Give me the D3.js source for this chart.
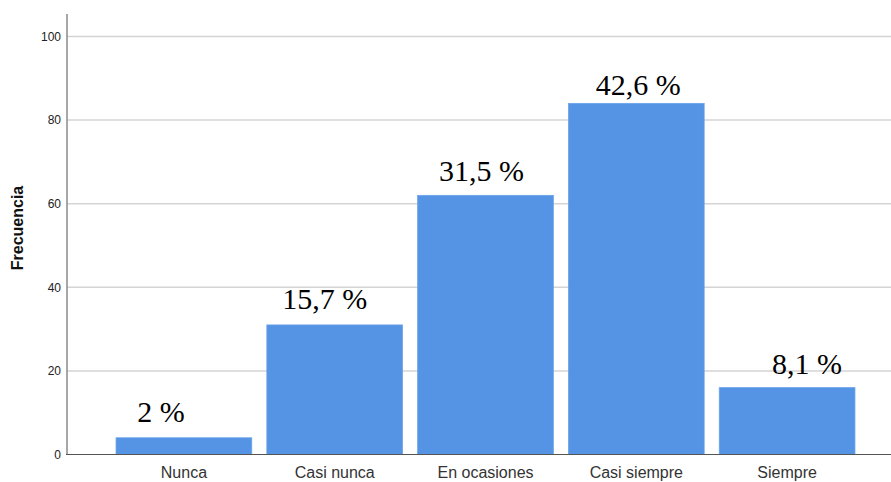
<!DOCTYPE html>
<html>
<head>
<meta charset="utf-8">
<script src="https://cdn.jsdelivr.net/npm/d3@7"></script>
<style>
  html, body { margin: 0; padding: 0; background: #fff; }
  svg { display: block; }
</style>
</head>
<body>
<svg id="chart" width="891" height="482"></svg>
<script>
// ---- data ----
const categories = ["Nunca", "Casi nunca", "En ocasiones", "Casi siempre", "Siempre"];
const frequencies = [4, 31, 62, 84, 16];
const percentLabels = ["2 %", "15,7 %", "31,5 %", "42,6 %", "8,1 %"];
const yTicks = [0, 20, 40, 60, 80, 100];
const yTitle = "Frecuencia";

// label nudges (layout only, px)
const labelDx = [-23, -10, -4, 2, 20];
const labelDy = [-16, -16, -14, -8, -14];

// ---- layout ----
const svg = d3.select("#chart");
const axisX = 67, plotTop = 14, plotRight = 891;

const x = d3.scaleBand()
  .domain(categories)
  .range([108.5, 862.5])
  .paddingInner(0.1)
  .paddingOuter(0.05);

const y = d3.scaleLinear().domain([0, 100]).range([454.5, 36.5]);

// gridlines
svg.append("g")
  .selectAll("line")
  .data(yTicks.filter(d => d > 0))
  .join("line")
  .attr("x1", axisX).attr("x2", plotRight)
  .attr("y1", d => y(d)).attr("y2", d => y(d))
  .attr("stroke", "#d4d4d4").attr("stroke-width", 1.5);

// bars
svg.append("g")
  .selectAll("rect")
  .data(categories)
  .join("rect")
  .attr("x", d => x(d))
  .attr("width", x.bandwidth())
  .attr("y", (d, i) => y(frequencies[i]))
  .attr("height", (d, i) => y(0) - y(frequencies[i]))
  .attr("fill", "#5594e4")
  .attr("stroke", "#6aa3ea")
  .attr("stroke-width", 0.8);

// y axis
const yAxis = d3.axisLeft(y).tickValues(yTicks).tickSize(0).tickPadding(6);
const gy = svg.append("g").attr("transform", `translate(${axisX},0)`).call(yAxis);
gy.select(".domain").remove();
gy.selectAll("text")
  .attr("font-family", "Arial, 'Liberation Sans', sans-serif")
  .attr("font-size", 12)
  .attr("fill", "#222");
svg.append("line")
  .attr("x1", axisX).attr("x2", axisX)
  .attr("y1", plotTop).attr("y2", y(0))
  .attr("stroke", "#8a8a8a").attr("stroke-width", 1.5);

// x axis
const xAxis = d3.axisBottom(x).tickSize(0).tickPadding(12);
const gx = svg.append("g").attr("transform", `translate(0,${y(0)})`).call(xAxis);
gx.select(".domain").remove();
gx.selectAll("text")
  .attr("font-family", "Arial, 'Liberation Sans', sans-serif")
  .attr("font-size", 16)
  .attr("fill", "#333");
svg.append("line")
  .attr("x1", axisX - 1).attr("x2", plotRight)
  .attr("y1", y(0)).attr("y2", y(0))
  .attr("stroke", "#555").attr("stroke-width", 1.2);

// y title
svg.append("text")
  .attr("transform", `translate(23,228) rotate(-90)`)
  .attr("text-anchor", "middle")
  .attr("font-family", "Arial, 'Liberation Sans', sans-serif")
  .attr("font-weight", "bold")
  .attr("font-size", 16)
  .attr("fill", "#111")
  .text(yTitle);

// percent labels
svg.append("g")
  .selectAll("text")
  .data(categories)
  .join("text")
  .attr("x", (d, i) => x(d) + x.bandwidth() / 2 + labelDx[i])
  .attr("y", (d, i) => y(frequencies[i]) + labelDy[i])
  .attr("text-anchor", "middle")
  .attr("font-family", "'Liberation Serif', 'Times New Roman', serif")
  .attr("font-size", 30)
  .attr("fill", "#000")
  .text((d, i) => percentLabels[i]);
</script>
</body>
</html>
